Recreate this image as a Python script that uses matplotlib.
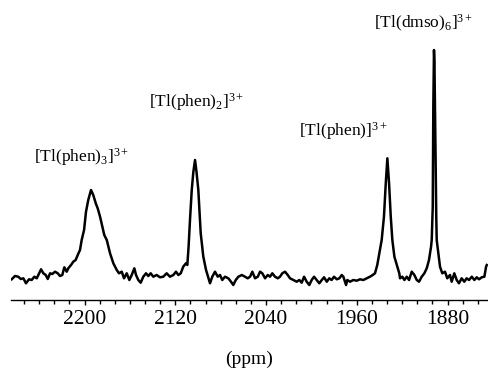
import numpy as np
import matplotlib
matplotlib.use('Agg')
import matplotlib.pyplot as plt
from matplotlib.ticker import AutoMinorLocator

plt.rcParams['font.family'] = 'Liberation Serif'
plt.rcParams['mathtext.fontset'] = 'custom'
plt.rcParams['mathtext.rm'] = 'Liberation Serif'
plt.rcParams['mathtext.it'] = 'Liberation Serif:italic'
plt.rcParams['mathtext.bf'] = 'Liberation Serif:bold'

# 205Tl NMR spectrum (intensity in arbitrary units)
ppm = [2264.2, 2261.3, 2258.4, 2256.2, 2253.9, 2251.6, 2248.9, 2246.6, 2244.2, 2242.1,
       2240.7, 2238.3, 2236.3, 2234.2, 2232.4, 2230.4, 2228.4, 2226.0, 2223.6, 2221.6,
       2219.6, 2217.8, 2215.7, 2214.3, 2211.9, 2209.9, 2207.8, 2206.0, 2204.0, 2202.5,
       2200.4, 2198.7, 2196.7, 2194.3, 2192.3, 2190.1, 2188.4, 2186.3, 2184.3, 2182.6,
       2180.4, 2177.5, 2174.6, 2171.6, 2169.6, 2167.2, 2165.2, 2162.8, 2160.5, 2158.4,
       2156.1, 2154.6, 2152.6, 2150.5, 2148.2, 2145.8, 2143.8, 2141.7, 2139.4, 2136.4,
       2133.5, 2130.6, 2127.6, 2124.7, 2121.7, 2119.4, 2117.3, 2115.2, 2113.0, 2110.6,
       2109.4, 2108.3, 2107.0, 2105.5, 2104.1, 2102.6, 2101.3, 2099.7, 2097.6, 2095.3,
       2092.9, 2089.4, 2087.4, 2085.0, 2082.6, 2080.6, 2078.6, 2076.2, 2073.3, 2070.9,
       2068.9, 2066.7, 2064.4, 2061.4, 2058.6, 2056.2, 2054.1, 2052.1, 2049.7, 2047.3,
       2045.3, 2043.3, 2040.9, 2038.5, 2036.5, 2034.5, 2032.1, 2029.7, 2027.7, 2025.7,
       2023.3, 2020.9, 2018.9, 2016.0, 2013.0, 2010.7, 2008.6, 2006.5, 2004.2, 2001.9,
       1999.8, 1997.7, 1995.4, 1993.1, 1990.9, 1988.9, 1986.5, 1984.3, 1982.2, 1980.1,
       1977.7, 1975.4, 1973.3, 1971.9, 1969.5, 1968.4, 1966.0, 1963.1, 1960.1, 1957.2,
       1954.3, 1951.3, 1948.4, 1946.0, 1944.0, 1942.0, 1940.2, 1938.1, 1936.1, 1934.5,
       1933.1, 1931.6, 1930.1, 1928.7, 1926.9, 1924.8, 1922.6, 1921.9, 1919.9, 1918.1,
       1916.0, 1914.0, 1911.6, 1909.3, 1907.2, 1905.2, 1902.8, 1900.5, 1898.4, 1896.4,
       1894.6, 1894.0, 1893.1, 1892.6, 1892.2, 1892.0, 1891.6, 1891.1, 1890.5, 1890.0,
       1889.6, 1888.2, 1886.7, 1884.7, 1882.3, 1880.3, 1877.9, 1876.4, 1874.1, 1872.0,
       1870.0, 1867.6, 1865.3, 1863.2, 1861.1, 1858.7, 1856.4, 1854.3, 1852.3, 1849.9,
       1847.6, 1846.1, 1845.5]
intensity = [-2.3, 1.0, 0.3, -2.0, -1.3, -6.3, -2.3, -3.0, 0.3, -1.3,
             2.0, 7.7, 3.7, 2.0, -2.0, 3.7, 3.0, 5.3, 3.7, 1.0,
             2.0, 9.7, 5.3, 8.7, 12.0, 15.3, 17.0, 22.0, 27.0, 37.0,
             47.0, 65.3, 77.0, 87.0, 82.0, 73.7, 68.7, 60.3, 50.3, 42.0,
             37.0, 23.7, 13.7, 7.0, 3.7, 5.3, -1.3, 3.7, -3.0, 2.0,
             8.7, 2.0, -3.0, -5.7, 0.3, 3.7, 1.0, 3.7, 0.3, 2.0,
             -0.3, 0.3, 3.7, 0.3, 2.0, 5.3, 2.0, 3.7, 10.3, 13.7,
             12.0, 30.0, 58.0, 87.0, 105.0, 117.0, 105.0, 87.0, 43.7, 20.3,
             7.0, -6.3, 0.3, 5.3, 0.3, 2.0, -3.0, 0.3, -1.3, -4.7,
             -8.0, -3.0, 0.3, 2.0, 0.3, -1.3, 0.3, 5.3, -1.3, 0.3,
             5.3, 3.7, -1.3, 2.0, 0.3, 3.7, 0.3, -1.3, 0.3, 3.7,
             5.3, 2.0, -1.3, -3.0, -4.7, -3.0, -5.7, 0.3, -4.7, -8.0,
             -3.0, 0.3, -3.0, -6.3, -3.0, -0.3, -4.7, -1.3, -3.0, 0.3,
             -2.3, -1.3, 2.0, 0.3, -8.0, -3.0, -4.7, -3.0, -3.7, -2.3,
             -3.0, -1.3, 0.3, 2.0, 3.7, 12.0, 23.7, 37.0, 60.3, 93.7,
             118.7, 93.7, 60.3, 37.0, 20.3, 12.0, 3.7, -1.3, 0.3, -3.0,
             0.3, -3.0, 5.3, 2.0, -3.0, -4.7, 0.3, 3.7, 8.7, 17.0,
             30.3, 37.0, 70.0, 170.0, 215.0, 227.0, 215.0, 170.0, 110.0, 60.0,
             37.0, 24.0, 10.3, 3.7, 5.3, -1.3, 2.0, -4.7, 3.7, -3.0,
             -6.3, -1.3, -4.7, -1.3, -3.0, 0.3, -3.0, -0.3, -2.3, -0.3,
             0.3, 10.3, 12.0]

labels = ['[Tl(phen)$_3$]$^{3+}$', '[Tl(phen)$_2$]$^{3+}$',
          '[Tl(phen)]$^{3+}$', '[Tl(dmso)$_6$]$^{3+}$']
label_ppm = [2202.2, 2101.1, 1972.2, 1901.0]
label_int = [115.3, 170.3, 141.0, 248.7]

fig = plt.figure(figsize=(4.88, 3.76), dpi=100)
ax = fig.add_axes([11/488, 76/376, 477/488, 300/376])
ax.plot(ppm, intensity, color='black', lw=1.8)

for lab, xp, yp in zip(labels, label_ppm, label_int):
    ax.text(xp, yp, lab, ha='center', va='baseline', fontsize=12.5)

ax.set_xlim(2264.8, 1844.4)
ax.set_ylim(-23, 277)
ax.set_xticks([2200, 2120, 2040, 1960, 1880])
ax.xaxis.set_minor_locator(AutoMinorLocator(6))
ax.tick_params(axis='x', which='major', direction='out', length=3.5, width=1, pad=4, labelsize=15.5)
ax.tick_params(axis='x', which='minor', direction='out', length=3, width=1)
ax.set_yticks([])
for s in ['top', 'right', 'left']:
    ax.spines[s].set_visible(False)
ax.spines['bottom'].set_linewidth(1)
ax.set_xlabel('(ppm)', fontsize=14, labelpad=15)
ax.patch.set_alpha(0)

fig.savefig('out.png', dpi=100)
